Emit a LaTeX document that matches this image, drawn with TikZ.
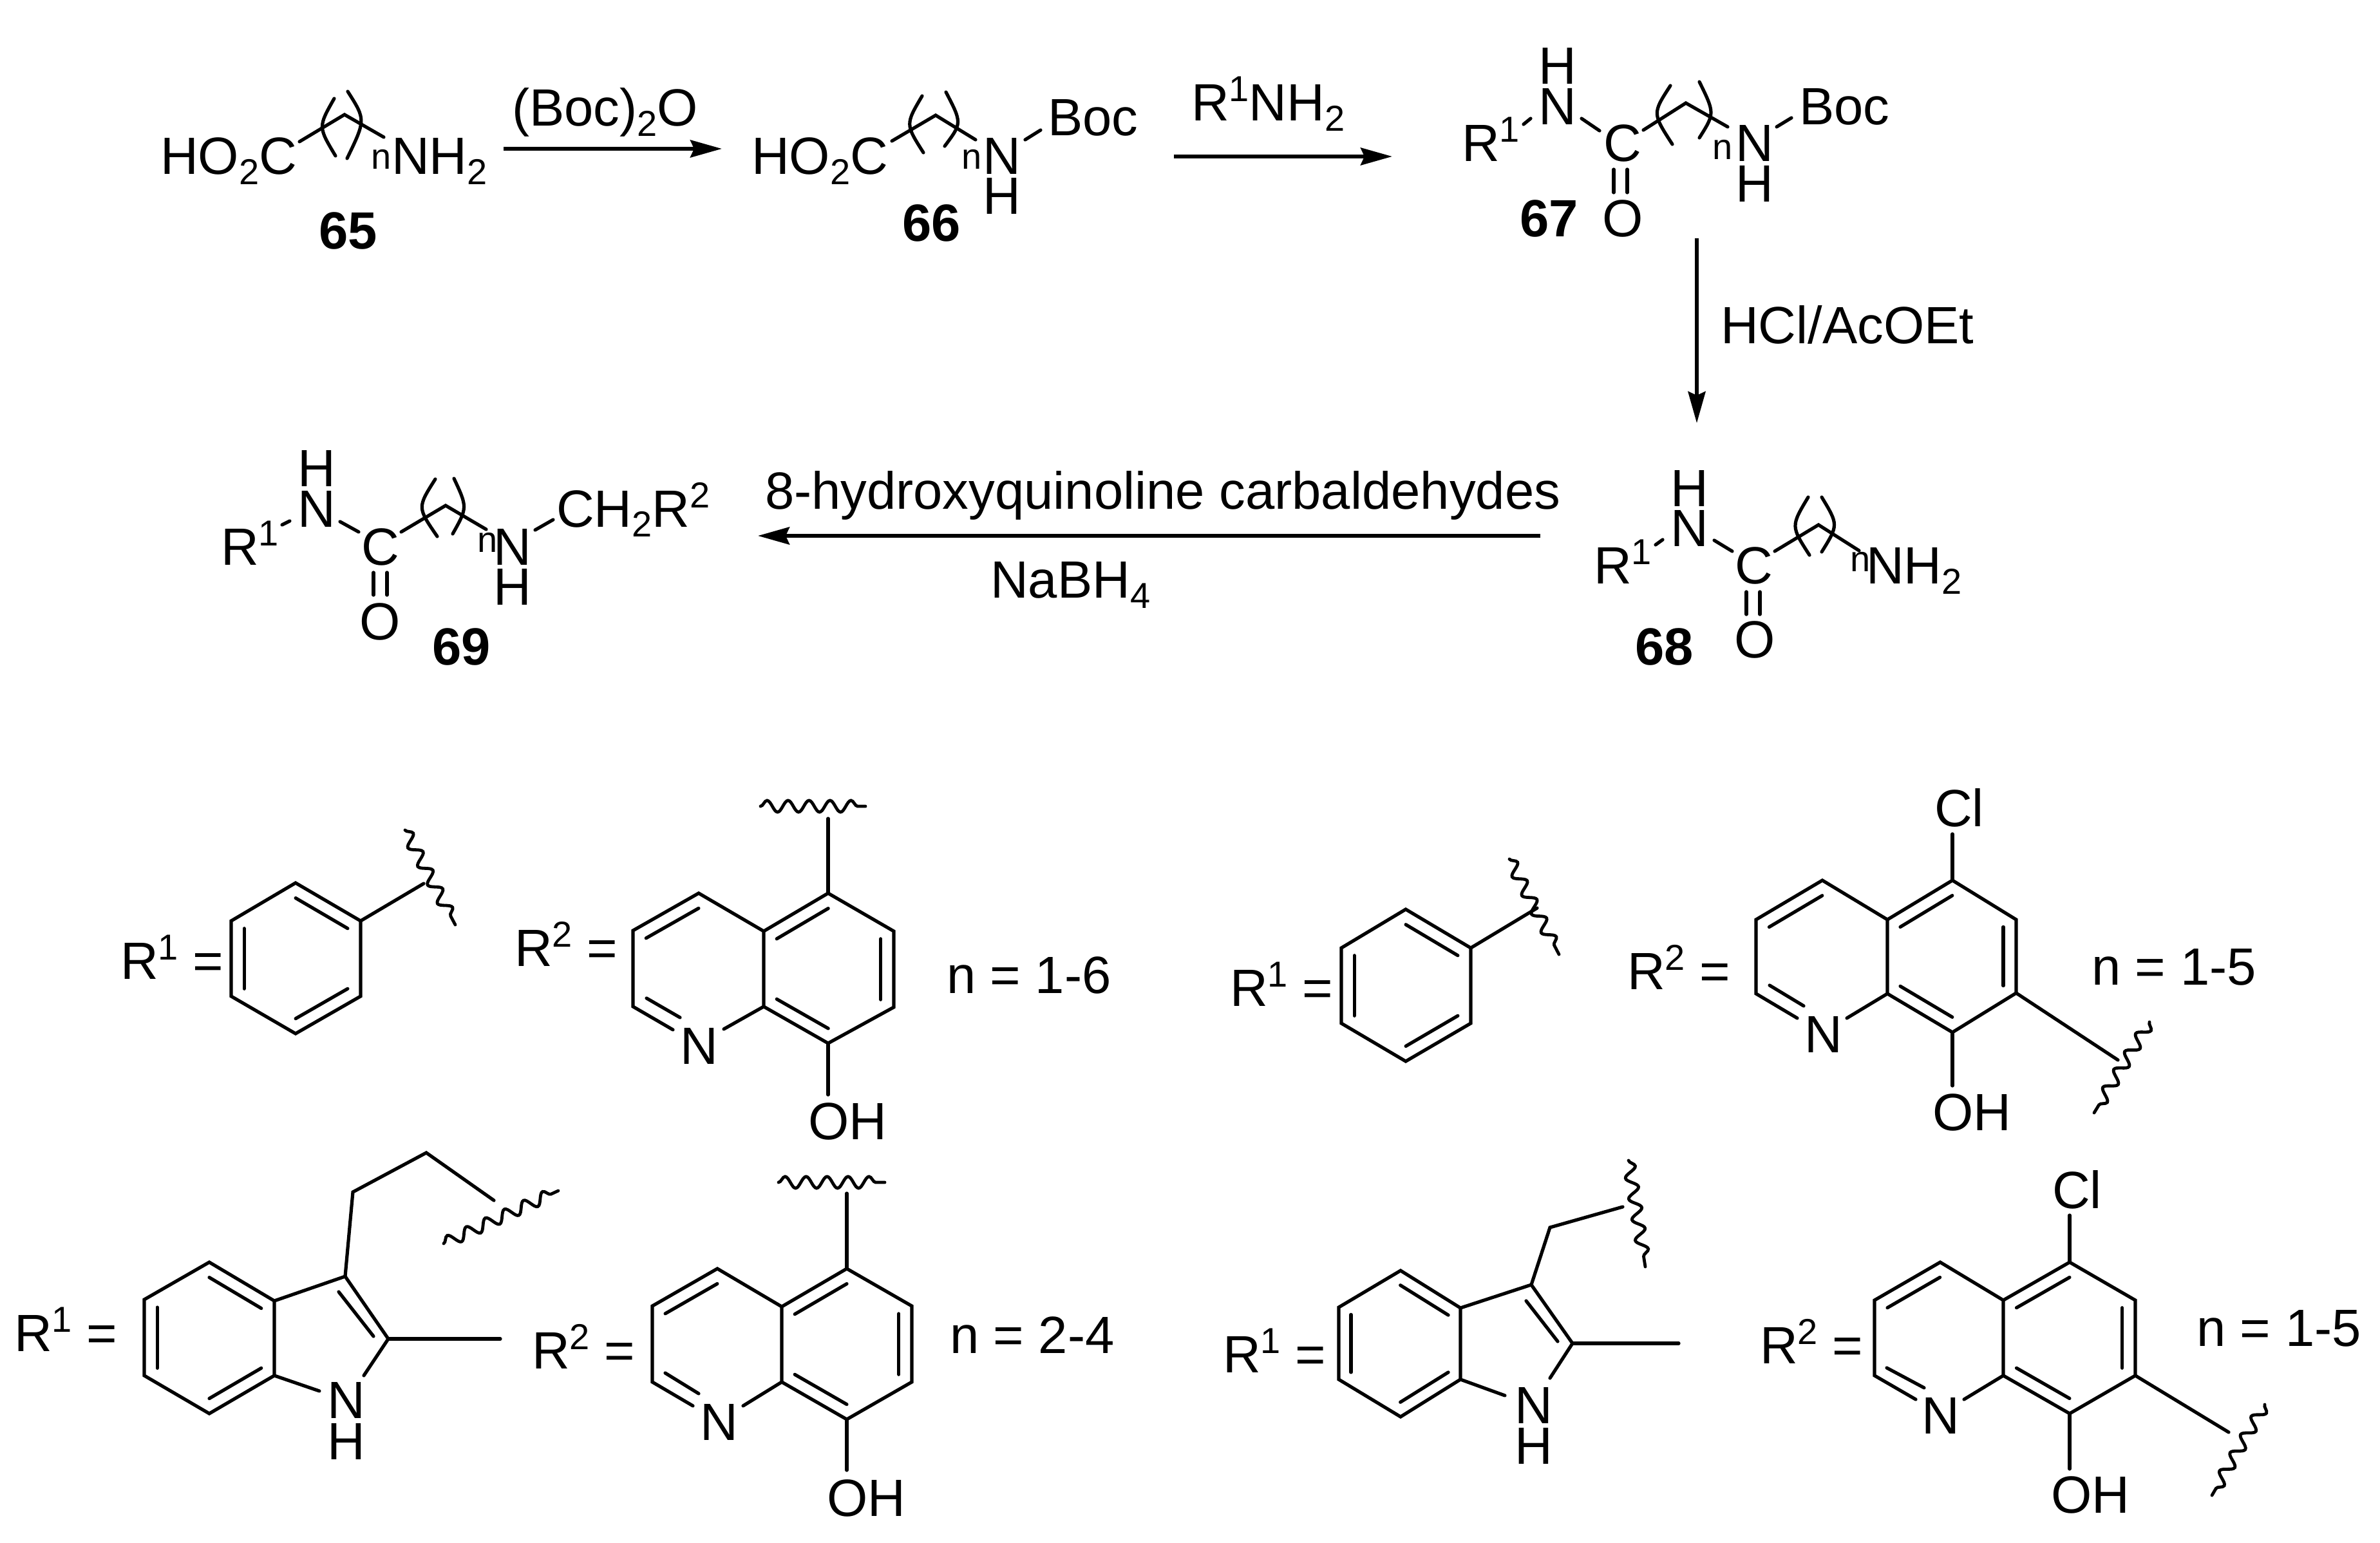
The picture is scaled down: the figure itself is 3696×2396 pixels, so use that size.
\documentclass[tikz,border=0pt]{standalone}
\usepackage{fontspec}
\setmainfont{Liberation Sans}
\usetikzlibrary{calc,arrows.meta,decorations.pathmorphing}
\newcommand\subr[1]{\raisebox{-8pt}{\fontsize{28}{30}\selectfont #1}}
\newcommand\supr[1]{\raisebox{15pt}{\fontsize{28}{30}\selectfont #1}}
\tikzset{
  atom/.style={anchor=base west,inner sep=0pt,outer sep=0pt,font=\fontsize{40.7}{46}\selectfont},
  smalln/.style={anchor=base west,inner sep=0pt,outer sep=0pt,font=\fontsize{28}{30}\selectfont},
  cmpd/.style={anchor=base west,inner sep=0pt,outer sep=0pt,font=\fontsize{40.7}{46}\selectfont\bfseries},
  bond/.style={line width=2.6pt,line cap=round,line join=miter,black},
  arrowline/.style={line width=2.9pt,-{Stealth[length=24.5pt,width=13.5pt,inset=3pt]},black},
  wavy/.style={line width=2.4pt,line cap=round,black,decorate,decoration={snake,segment length=16.3pt,amplitude=4.5pt}}
}
\newcommand\dblin[3]{\draw[bond] ($(#1)!.2!(#3)$) -- ($(#2)!.2!(#3)$);}
% quinoline skeleton: A top, B upper left, C lower left, D C8a, E C4a, F C5, G C6, H C7, I C8,
% X/Y bond ends at N, W/Z inner bond ends at N
\newcommand\quin[1]{%
  \coordinate (#1P) at ($(#1B)!.5!(#1D)$);
  \coordinate (#1Q) at ($(#1E)!.5!(#1H)$);
  \draw[bond] (#1X)--(#1C)--(#1B)--(#1A)--(#1E)--(#1D)--(#1Y);
  \draw[bond] (#1E)--(#1F)--(#1G)--(#1H)--(#1I)--(#1D);
  \dblin{#1B}{#1A}{#1P}
  \dblin{#1E}{#1F}{#1Q}
  \dblin{#1G}{#1H}{#1Q}
  \dblin{#1D}{#1I}{#1Q}
  \draw[bond] (#1W)--(#1Z);
}
% benzene ring: A top, B upper right, C lower right, D bottom, E lower left, F upper left
\newcommand\benz[1]{%
  \coordinate (#1P) at ($(#1B)!.5!(#1E)$);
  \draw[bond] (#1A)--(#1B)--(#1C)--(#1D)--(#1E)--(#1F)--cycle;
  \dblin{#1A}{#1B}{#1P}
  \dblin{#1C}{#1D}{#1P}
  \dblin{#1E}{#1F}{#1P}
}
\begin{document}
\begin{tikzpicture}[x=0.5pt,y=-0.5pt]
\useasboundingbox (0,0) rectangle (3696,2396);

% ---------- scheme: structure 65
\node[atom] (t65a) at (249,271) {HO\subr{2}C};
\node[smalln] (t65n) at (576,263) {n};
\node[atom] (t65b) at (608,271) {NH\subr{2}};
\node[cmpd] (l65) at (495,387) {65};
\foreach \n/\x/\y in {p1/465/220,p2/535/178,p3/596/213}{\coordinate (\n) at (\x,\y);}
\draw[bond] (p1)--(p2)--(p3);
\draw[bond] (519,153) .. controls (494,197) .. (521,242);
\draw[bond] (540,142) .. controls (568,186) .. (539,246);

% ---------- structure 66
\node[atom] (t66a) at (1167,271) {HO\subr{2}C};
\node[smalln] (t66n) at (1493,263) {n};
\node[atom] (t66N) at (1526,271) {N};
\node[atom] (t66H) at (1526,333) {H};
\node[atom] (t66B) at (1627,211) {Boc};
\node[cmpd] (l66) at (1401,375) {66};
\foreach \n/\x/\y in {q1/1385/219,q2/1453/179,q3/1515/217,q4/1592/217,q5/1616/202}{\coordinate (\n) at (\x,\y);}
\draw[bond] (q1)--(q2)--(q3);
\draw[bond] (q4)--(q5);
\draw[bond] (1432,149) .. controls (1406,193) .. (1434,237);
\draw[bond] (1469,143) .. controls (1494,191) .. (1467,227);

% ---------- structure 67
\node[atom] (t67R) at (2270,251) {R\supr{1}};
\node[atom] (t67N) at (2389,194) {N};
\node[atom] (t67H) at (2389,131) {H};
\node[atom] (t67C) at (2490,251) {C};
\node[atom] (t67O) at (2488,368) {O};
\node[smalln] (t67n) at (2659,248) {n};
\node[atom] (t67M) at (2695,251) {N};
\node[atom] (t67I) at (2695,314) {H};
\node[atom] (t67B) at (2794,194) {Boc};
\node[cmpd] (l67) at (2360,368) {67};
\foreach \n/\x/\y in {r1/2366/193,r2/2377/184,r3/2456/184,r4/2484/203,r5/2552/202,r6/2618/160,r7/2683/197,r8/2759/197,r9/2782/183,ra/2506/263,rb/2506/299,rc/2527/263,rd/2527/299}{\coordinate (\n) at (\x,\y);}
\draw[bond] (r1)--(r2);
\draw[bond] (r3)--(r4);
\draw[bond] (r5)--(r6)--(r7);
\draw[bond] (r8)--(r9);
\draw[bond] (ra)--(rb);
\draw[bond] (rc)--(rd);
\draw[bond] (2594,133) .. controls (2566,176) .. (2597,224);
\draw[bond] (2639,127) .. controls (2663,176) .. (2639,214);

% ---------- structure 68
\node[atom] (t68R) at (2475,906) {R\supr{1}};
\node[atom] (t68N) at (2594,848) {N};
\node[atom] (t68H) at (2594,786) {H};
\node[atom] (t68C) at (2694,906) {C};
\node[atom] (t68O) at (2693,1021) {O};
\node[smalln] (t68n) at (2873,887) {n};
\node[atom] (t68M) at (2898,906) {NH\subr{2}};
\node[cmpd] (l68) at (2539,1032) {68};
\foreach \n/\x/\y in {s1/2571/846,s2/2582/838,s3/2662/839,s4/2690/856,s5/2756/856,s6/2824/815,s7/2887/855,sa/2712/919,sb/2712/954,sc/2733/919,sd/2733/954}{\coordinate (\n) at (\x,\y);}
\draw[bond] (s1)--(s2);
\draw[bond] (s3)--(s4);
\draw[bond] (s5)--(s6)--(s7);
\draw[bond] (sa)--(sb);
\draw[bond] (sc)--(sd);
\draw[bond] (2808,772) .. controls (2781,817) .. (2810,862);
\draw[bond] (2829,772) .. controls (2855,815) .. (2829,857);

% ---------- structure 69
\node[atom] (t69R) at (343,877) {R\supr{1}};
\node[atom] (t69N) at (462,818) {N};
\node[atom] (t69H) at (462,755) {H};
\node[atom] (t69C) at (561,877) {C};
\node[atom] (t69O) at (558,993) {O};
\node[smalln] (t69n) at (741,857) {n};
\node[atom] (t69M) at (766,877) {N};
\node[atom] (t69I) at (766,939) {H};
\node[atom] (t69G) at (864,818) {CH\subr{2}R\supr{2}};
\node[cmpd] (l69) at (671,1032) {69};
\foreach \n/\x/\y in {u1/438/815,u2/450/809,u3/528/810,u4/557/826,u5/623/826,u6/692/785,u7/755/822,u8/831/823,u9/859/807,ua/580/889,ub/580/924,uc/601/889,ud/601/924}{\coordinate (\n) at (\x,\y);}
\draw[bond] (u1)--(u2);
\draw[bond] (u3)--(u4);
\draw[bond] (u5)--(u6)--(u7);
\draw[bond] (u8)--(u9);
\draw[bond] (ua)--(ub);
\draw[bond] (uc)--(ud);
\draw[bond] (676,744) .. controls (648,788) .. (679,833);
\draw[bond] (705,743) .. controls (726,788) .. (703,829);

% ---------- reaction arrows
\foreach \n/\x/\y in {ar1s/782/231,ar1e/1121/231,ar2s/1823/243,ar2e/2162/243,ar3s/2635/370,ar3e/2635/657,ar4s/2392/832,ar4e/1177/832}{\coordinate (\n) at (\x,\y);}
\draw[arrowline] (ar1s)--(ar1e);
\draw[arrowline] (ar2s)--(ar2e);
\draw[arrowline] (ar3s)--(ar3e);
\draw[arrowline] (ar4s)--(ar4e);
\node[atom] (rg1) at (795,196) {(Boc)\subr{2}O};
\node[atom] (rg2) at (1850,188) {R\supr{1}NH\subr{2}};
\node[atom] (rg3) at (2672,534) {HCl/AcOEt};
\node[atom] (rg4) at (1188,791) {8-hydroxyquinoline carbaldehydes};
\node[atom] (rg5) at (1538,928) {NaBH\subr{4}};

% ---------- row 1, left
\node[atom] (a1R) at (187,1520) {R\supr{1} =};
\foreach \n/\x/\y in {bAA/459/1371,bAB/560/1430,bAC/560/1547,bAD/459/1605,bAE/359/1547,bAF/359/1430,bAs/658/1372,bAw/629/1289,bAv/707/1436}{\coordinate (\n) at (\x,\y);}
\benz{bA}
\draw[bond] (bAB)--(bAs);
\draw[wavy] (bAw)--(bAv);
\node[atom] (a2R) at (799,1500) {R\supr{2} =};
\node[atom] (a2N) at (1056,1652) {N};
\node[atom] (a2O) at (1255,1769) {OH};
\node[atom] (a2n) at (1470,1542) {n = 1-6};
\foreach \n/\x/\y in {qAA/1085/1387,qAB/983/1445,qAC/983/1563,qAD/1186/1563,qAE/1186/1446,qAF/1286/1387,qAG/1388/1446,qAH/1388/1564,qAI/1286/1620,qAX/1045/1599,qAY/1124/1598,qAW/1004/1550,qAZ/1056/1580,qAs/1286/1271,qAo/1286/1700,qAw/1181/1252,qAv/1344/1252}{\coordinate (\n) at (\x,\y);}
\quin{qA}
\draw[bond] (qAF)--(qAs);
\draw[bond] (qAI)--(qAo);
\draw[wavy] (qAw)--(qAv);

% ---------- row 1, right
\node[atom] (c1R) at (1910,1562) {R\supr{1} =};
\foreach \n/\x/\y in {bBA/2183/1412,bBB/2284/1472,bBC/2284/1589,bBD/2183/1648,bBE/2083/1589,bBF/2083/1472,bBs/2387/1410,bBw/2344/1334,bBv/2421/1482}{\coordinate (\n) at (\x,\y);}
\benz{bB}
\draw[bond] (bBB)--(bBs);
\draw[wavy] (bBw)--(bBv);
\node[atom] (c2R) at (2527,1536) {R\supr{2} =};
\node[atom] (c2N) at (2802,1634) {N};
\node[atom] (c2O) at (3001,1755) {OH};
\node[atom] (c2C) at (3004,1283) {Cl};
\node[atom] (c2n) at (3248,1529) {n = 1-5};
\foreach \n/\x/\y in {qBA/2830/1367,qBB/2727/1428,qBC/2727/1543,qBD/2931/1543,qBE/2931/1428,qBF/3032/1367,qBG/3131/1428,qBH/3131/1542,qBI/3032/1603,qBX/2791/1581,qBY/2868/1581,qBW/2748/1530,qBZ/2801/1562,qBs/3032/1295,qBo/3032/1686,qBt/3289/1646,qBw/3338/1587,qBv/3252/1728}{\coordinate (\n) at (\x,\y);}
\quin{qB}
\draw[bond] (qBF)--(qBs);
\draw[bond] (qBI)--(qBo);
\draw[bond] (qBH)--(qBt);
\draw[wavy] (qBw)--(qBv);

% ---------- row 2, left
\node[atom] (d1R) at (22,2098) {R\supr{1} =};
\node[atom] (d1N) at (508,2202) {N};
\node[atom] (d1H) at (508,2266) {H};
\foreach \n/\x/\y in {bCA/325/1960,bCB/426/2020,bCC/426/2136,bCD/325/2195,bCE/224/2136,bCF/224/2018,iC3/536/1982,iC2/603/2079,iCa/565/2136,iCb/496/2160,iCc/526/2006,iCd/580/2075,iCm/777/2079,iCe/548/1851,iCf/662/1790,iCg/767/1864,iCw/689/1931,iCv/867/1849}{\coordinate (\n) at (\x,\y);}
\benz{bC}
\draw[bond] (bCB)--(iC3)--(iC2)--(iCa);
\draw[bond] (bCC)--(iCb);
\draw[bond] (iCc)--(iCd);
\draw[bond] (iC2)--(iCm);
\draw[bond] (iC3)--(iCe)--(iCf)--(iCg);
\draw[wavy] (iCw)--(iCv);
\node[atom] (d2R) at (826,2125) {R\supr{2} =};
\node[atom] (d2N) at (1087,2236) {N};
\node[atom] (d2O) at (1284,2354) {OH};
\node[atom] (d2n) at (1475,2101) {n = 2-4};
\foreach \n/\x/\y in {qCA/1114/1970,qCB/1013/2028,qCC/1013/2146,qCD/1214/2146,qCE/1214/2029,qCF/1315/1970,qCG/1416/2028,qCH/1416/2146,qCI/1315/2204,qCX/1076/2183,qCY/1154/2183,qCW/1033/2132,qCZ/1085/2164,qCs/1315/1853,qCo/1315/2283,qCw/1209/1836,qCv/1374/1836}{\coordinate (\n) at (\x,\y);}
\quin{qC}
\draw[bond] (qCF)--(qCs);
\draw[bond] (qCI)--(qCo);
\draw[wavy] (qCw)--(qCv);

% ---------- row 2, right
\node[atom] (e1R) at (1899,2131) {R\supr{1} =};
\node[atom] (e1N) at (2352,2210) {N};
\node[atom] (e1H) at (2352,2273) {H};
\foreach \n/\x/\y in {bDA/2175/1973,bDB/2268/2031,bDC/2268/2142,bDD/2175/2200,bDE/2079/2142,bDF/2079/2030,iD3/2378/1995,iD2/2442/2086,iDa/2407/2140,iDb/2337/2167,iDc/2370/2020,iDd/2419/2083,iDm/2607/2086,iDe/2407/1906,iDf/2520/1874,iDw/2529/1802,iDv/2555/1967}{\coordinate (\n) at (\x,\y);}
\benz{bD}
\draw[bond] (bDB)--(iD3)--(iD2)--(iDa);
\draw[bond] (bDC)--(iDb);
\draw[bond] (iDc)--(iDd);
\draw[bond] (iD2)--(iDm);
\draw[bond] (iD3)--(iDe)--(iDf);
\draw[wavy] (iDw)--(iDv);
\node[atom] (e2R) at (2733,2117) {R\supr{2} =};
\node[atom] (e2N) at (2984,2226) {N};
\node[atom] (e2O) at (3185,2349) {OH};
\node[atom] (e2C) at (3187,1876) {Cl};
\node[atom] (e2n) at (3411,2090) {n = 1-5};
\foreach \n/\x/\y in {qDA/3013/1960,qDB/2911/2019,qDC/2911/2136,qDD/3111/2136,qDE/3111/2019,qDF/3214/1960,qDG/3316/2019,qDH/3316/2136,qDI/3214/2195,qDX/2975/2173,qDY/3050/2173,qDW/2930/2124,qDZ/2988/2155,qDs/3214/1887,qDo/3214/2281,qDt/3461/2224,qDw/3517/2181,qDv/3435/2322}{\coordinate (\n) at (\x,\y);}
\quin{qD}
\draw[bond] (qDF)--(qDs);
\draw[bond] (qDI)--(qDo);
\draw[bond] (qDH)--(qDt);
\draw[wavy] (qDw)--(qDv);
\end{tikzpicture}
\end{document}
